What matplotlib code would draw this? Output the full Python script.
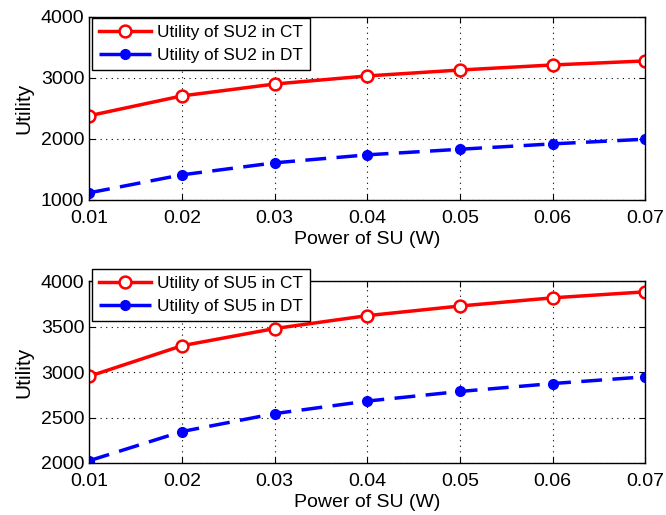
import matplotlib.pyplot as plt

# Data
power = [0.01, 0.02, 0.03, 0.04, 0.05, 0.06, 0.07]
su2_ct = [2380, 2705, 2900, 3033, 3130, 3213, 3279]
su2_dt = [1115, 1410, 1607, 1738, 1830, 1918, 1995]
su5_ct = [2954, 3290, 3479, 3621, 3727, 3817, 3883]
su5_dt = [2025, 2346, 2543, 2681, 2787, 2874, 2948]
x_ticks = [0.01, 0.02, 0.03, 0.04, 0.05, 0.06, 0.07]
x_tick_labels = ["0.01", "0.02", "0.03", "0.04", "0.05", "0.06", "0.07"]

plt.rcParams["font.family"] = ["Liberation Sans", "DejaVu Sans"]


def style_axes(ax, yticks, ylim, legend_top):
    ax.set_xlim(0.01, 0.07)
    ax.set_ylim(*ylim)
    ax.set_xticks(x_ticks)
    ax.set_xticklabels(x_tick_labels)
    ax.set_yticks(yticks)
    ax.tick_params(direction="in", labelsize=14, length=4, top=True, right=True)
    ax.tick_params(axis="x", pad=7)
    ax.grid(True, color="black", linestyle=(0, (1, 4)), linewidth=0.8)
    ax.set_xlabel("Power of SU (W)", fontsize=14, labelpad=3)
    ax.set_ylabel("Utility", fontsize=15, labelpad=5)
    for sp in ax.spines.values():
        sp.set_linewidth(1.0)
    # the legend box sits a bit above the axes in the lower panel
    leg = ax.legend(loc="upper left", bbox_to_anchor=(0.005, legend_top),
                    fontsize=12.4, fancybox=False, framealpha=1,
                    edgecolor="black", handlelength=3.0, borderpad=0.4,
                    labelspacing=0.45, handletextpad=0.4, borderaxespad=0)
    leg.get_frame().set_linewidth(1.0)


fig = plt.figure(figsize=(6.66, 5.15), dpi=100)
ax1 = fig.add_axes([0.134, 0.612, 0.835, 0.355])
ax2 = fig.add_axes([0.134, 0.101, 0.835, 0.353])

ax1.plot(power, su2_ct, color="red", linewidth=2.5, marker="o", markersize=8.5,
         markerfacecolor="white", markeredgewidth=1.8, label="Utility of SU2 in CT")
ax1.plot(power, su2_dt, color="blue", linewidth=2.5, linestyle=(0, (6, 3)), marker="o",
         markersize=7, label="Utility of SU2 in DT")
style_axes(ax1, [1000, 2000, 3000, 4000], (1000, 4000), 0.995)

ax2.plot(power, su5_ct, color="red", linewidth=2.5, marker="o", markersize=8.5,
         markerfacecolor="white", markeredgewidth=1.8, label="Utility of SU5 in CT")
ax2.plot(power, su5_dt, color="blue", linewidth=2.5, linestyle=(0, (6, 3)), marker="o",
         markersize=7, label="Utility of SU5 in DT")
style_axes(ax2, [2000, 2500, 3000, 3500, 4000], (2000, 4000), 1.066)

fig.savefig("out.png", dpi=100)
